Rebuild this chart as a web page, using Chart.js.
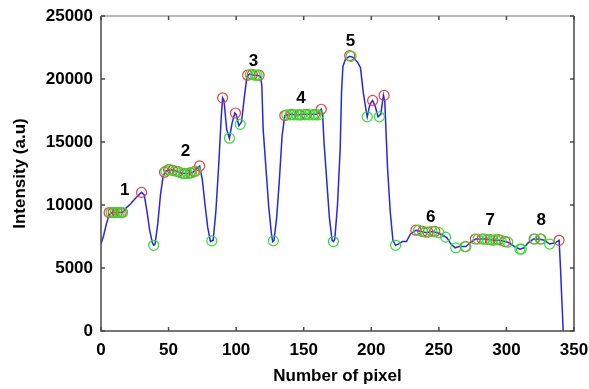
<!DOCTYPE html>
<html>
<head>
<meta charset="utf-8">
<script src="https://cdn.jsdelivr.net/npm/chart.js@4.4.0/dist/chart.umd.min.js"></script>
<style>
  html, body { margin: 0; padding: 0; background: #fff; }
  #wrap { width: 589px; height: 389px; }
</style>
</head>
<body>
<div id="wrap"><canvas id="profile"></canvas></div>
<script>
// intensity profile along the pixel line
const pixelPos = [0, 2, 4, 6, 8, 12, 16, 18, 22, 26, 29, 30, 32, 34, 36, 38, 39, 40, 42, 44, 46, 48, 52, 56, 60, 64, 68, 72, 73, 75, 77, 79, 81, 83, 85, 87, 89, 90, 91, 93, 95, 97, 99, 100, 102, 104, 106, 108, 110, 113, 116, 118, 119, 120, 122, 124, 126, 127, 128, 130, 132, 134, 136, 140, 145, 150, 155, 160, 163, 164, 165, 167, 169, 171, 172, 173, 175, 177, 178, 179, 181, 184, 187, 190, 192, 194, 196, 197, 199, 201, 203, 205, 207, 209, 210, 212, 214, 216, 218, 220, 223, 226, 229, 233, 237, 241, 245, 249, 253, 256, 259, 262, 265, 270, 273, 277, 281, 285, 290, 295, 299, 302, 306, 310, 313, 316, 320, 324, 328, 332, 336, 339, 340, 341, 342];
const intensity = [6900, 7600, 8500, 9200, 9400, 9400, 9400, 9700, 10100, 10600, 10900, 11000, 10800, 9500, 8000, 7000, 6800, 6900, 8500, 10800, 12300, 12700, 12800, 12700, 12500, 12500, 12600, 13000, 13100, 12000, 10000, 8200, 7100, 7200, 9500, 13000, 17000, 18500, 18300, 16000, 15300, 16500, 17300, 17200, 16300, 16600, 18500, 20200, 20400, 20300, 20300, 20200, 19500, 16000, 13000, 10000, 7800, 7100, 7200, 9000, 12000, 15500, 17100, 17200, 17150, 17200, 17200, 17200, 17600, 17200, 15000, 12000, 9000, 7200, 7100, 7300, 10000, 14500, 19000, 21000, 21600, 21800, 21700, 21300, 20900, 19000, 17600, 17000, 18000, 18300, 17800, 17000, 17200, 18700, 18200, 13000, 9500, 7200, 6800, 6900, 7100, 7100, 7700, 8000, 7900, 7800, 7900, 7800, 7600, 7400, 6900, 6600, 6700, 6700, 7000, 7300, 7300, 7300, 7200, 7200, 7100, 7000, 6700, 6500, 6600, 7000, 7300, 7300, 7200, 6900, 7000, 7200, 5000, 2500, 0];

// detected maxima (red) and minima (green)
const maxPos = [6, 9, 12, 15, 30, 47, 50, 53, 57, 62, 66, 69, 73, 90, 99.5, 108.5, 112, 117, 136, 141, 147, 152, 158, 163, 184, 201, 209.5, 233, 238, 242, 247, 269.5, 277, 282, 288, 294, 299, 320.5, 325.5, 339];
const maxVal = [9400, 9400, 9400, 9400, 11000, 12600, 12800, 12750, 12650, 12500, 12550, 12650, 13100, 18500, 17300, 20300, 20350, 20300, 17100, 17200, 17150, 17200, 17200, 17600, 21850, 18300, 18700, 8000, 7900, 7850, 7900, 6700, 7300, 7300, 7250, 7250, 7100, 7300, 7300, 7200];
const minPos = [7.5, 10.5, 13.5, 16, 39, 48, 51, 55, 59, 61, 64, 67, 70, 82, 95, 103, 110.5, 114, 115.5, 127.5, 137.5, 140, 142.5, 145, 148.5, 151, 154, 156.5, 159, 161, 172, 185, 197, 206, 218, 235, 240, 245, 250, 255, 262.5, 270, 279, 284, 286, 290, 292, 296, 301, 310, 311, 321, 325, 332];
const minVal = [9400, 9400, 9400, 9400, 6800, 12700, 12800, 12700, 12550, 12500, 12500, 12550, 12700, 7150, 15300, 16400, 20350, 20300, 20300, 7150, 17150, 17150, 17150, 17150, 17150, 17150, 17150, 17150, 17150, 17150, 7100, 21800, 17000, 17000, 6800, 8000, 7850, 7900, 7800, 7450, 6600, 6700, 7300, 7300, 7250, 7200, 7250, 7200, 7050, 6500, 6500, 7300, 7300, 6900];

// peak group numbers
const peakNums = ['1', '2', '3', '4', '5', '6', '7', '8'];
const peakPos = [17.5, 62.6, 112.8, 148, 184.6, 244, 288, 325.8];
const peakHeight = [11140, 14240, 21380, 18480, 22970, 9050, 8760, 8810];

const xTicks = [0, 50, 100, 150, 200, 250, 300, 350];
const yTicks = [0, 5000, 10000, 15000, 20000, 25000];

const FONT = 'Liberation Sans, Arial, sans-serif';

function pts(xs, ys) {
  return xs.map((x, i) => ({ x: x, y: ys[i] }));
}

// matlab style box with inward ticks + group numbers
const framePlugin = {
  id: 'frame',
  afterDatasetsDraw(chart) {
    const ctx = chart.ctx;
    const a = chart.chartArea;
    const xs = chart.scales.x, ys = chart.scales.y;
    ctx.save();
    ctx.font = 'bold 17px ' + FONT;
    ctx.fillStyle = '#000';
    ctx.textAlign = 'center';
    ctx.textBaseline = 'middle';
    peakNums.forEach((t, i) => {
      ctx.fillText(t, xs.getPixelForValue(peakPos[i]), ys.getPixelForValue(peakHeight[i]));
    });
    ctx.lineWidth = 1.5;
    ctx.strokeStyle = '#a0a0a0';
    ctx.beginPath();
    ctx.moveTo(a.left, a.top);
    ctx.lineTo(a.right, a.top);
    ctx.stroke();
    ctx.strokeStyle = '#4a4a4a';
    ctx.beginPath();
    ctx.moveTo(a.left, a.top);
    ctx.lineTo(a.left, a.bottom);
    ctx.lineTo(a.right, a.bottom);
    ctx.lineTo(a.right, a.top);
    ctx.stroke();
    const tl = 4;
    ctx.beginPath();
    xTicks.forEach(v => {
      const px = xs.getPixelForValue(v);
      ctx.moveTo(px, a.bottom); ctx.lineTo(px, a.bottom - tl);
      ctx.moveTo(px, a.top); ctx.lineTo(px, a.top + tl);
    });
    yTicks.forEach(v => {
      const py = ys.getPixelForValue(v);
      ctx.moveTo(a.left, py); ctx.lineTo(a.left + tl, py);
      ctx.moveTo(a.right, py); ctx.lineTo(a.right - tl, py);
    });
    ctx.stroke();
    ctx.restore();
  }
};

new Chart(document.getElementById('profile').getContext('2d'), {
  type: 'line',
  data: {
    datasets: [
      {
        label: 'Profile',
        data: pts(pixelPos, intensity),
        borderColor: '#2626e6',
        borderWidth: 1.5,
        pointRadius: 0,
        tension: 0,
        fill: false,
        order: 3
      },
      {
        type: 'scatter',
        label: 'Maxima',
        data: pts(maxPos, maxVal),
        borderColor: '#f03c3c',
        backgroundColor: 'rgba(0,0,0,0)',
        borderWidth: 1.2,
        pointRadius: 5,
        order: 2
      },
      {
        type: 'scatter',
        label: 'Minima',
        data: pts(minPos, minVal),
        borderColor: '#2ee02e',
        backgroundColor: 'rgba(0,0,0,0)',
        borderWidth: 1.2,
        pointRadius: 5,
        order: 1
      }
    ]
  },
  options: {
    responsive: true,
    maintainAspectRatio: false,
    animation: false,
    layout: { padding: { top: 16, right: 15, bottom: 0, left: 0 } },
    plugins: {
      legend: { display: false },
      tooltip: { enabled: false }
    },
    scales: {
      x: {
        type: 'linear',
        min: 0,
        max: 350,
        afterBuildTicks: s => { s.ticks = xTicks.map(v => ({ value: v })); },
        afterFit: s => { s.height = 58; s.paddingLeft = 0; s.paddingRight = 0; },
        grid: { display: false, drawTicks: false },
        border: { display: false },
        ticks: { padding: 9, color: '#000', font: { family: FONT, size: 17, weight: 'bold' }, maxRotation: 0 },
        title: { display: true, text: 'Number of pixel', color: '#000', padding: { top: 0, bottom: 2 }, font: { family: FONT, size: 17, weight: 'bold' } }
      },
      y: {
        type: 'linear',
        min: 0,
        max: 25000,
        afterBuildTicks: s => { s.ticks = yTicks.map(v => ({ value: v })); },
        afterFit: s => { s.width = 101; s.paddingTop = 0; s.paddingBottom = 0; },
        grid: { display: false, drawTicks: false },
        border: { display: false },
        ticks: { padding: 8, color: '#000', font: { family: FONT, size: 17, weight: 'bold' }, callback: v => String(v) },
        title: { display: true, text: 'Intensity (a.u)', color: '#000', padding: { top: 10, bottom: 0 }, font: { family: FONT, size: 17, weight: 'bold' } }
      }
    }
  },
  plugins: [framePlugin]
});
</script>
</body>
</html>
